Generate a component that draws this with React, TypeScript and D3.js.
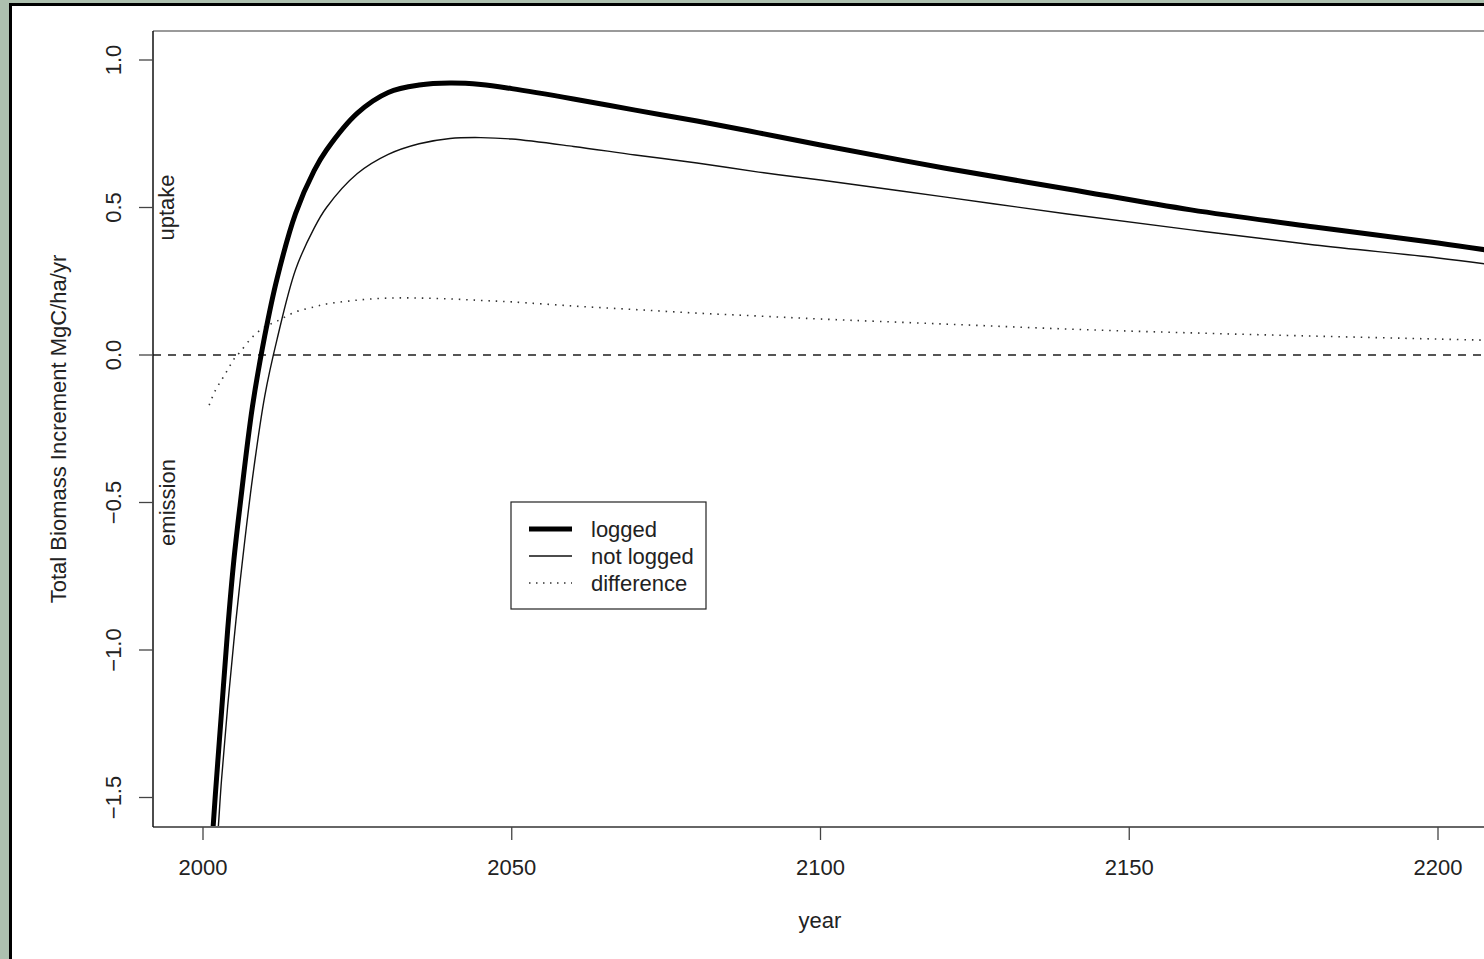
import React from "react";
import * as d3 from "d3";

const years = [2001, 2002, 2003, 2004, 2005, 2006, 2008, 2010, 2012, 2015, 2018, 2020, 2025, 2030, 2035, 2040, 2045, 2050, 2060, 2070, 2080, 2090, 2100, 2120, 2140, 2160, 2180, 2200, 2210];
const logged = [-1.8, -1.49, -1.21, -0.93, -0.695, -0.51, -0.176, 0.065, 0.26, 0.48, 0.625, 0.695, 0.82, 0.89, 0.915, 0.922, 0.917, 0.903, 0.868, 0.83, 0.793, 0.753, 0.712, 0.634, 0.563, 0.492, 0.434, 0.38, 0.349];
const notLogged = [-1.85, -1.72, -1.44, -1.19, -0.97, -0.77, -0.42, -0.139, 0.054, 0.29, 0.43, 0.5, 0.615, 0.68, 0.716, 0.734, 0.737, 0.732, 0.707, 0.678, 0.651, 0.62, 0.593, 0.536, 0.478, 0.424, 0.373, 0.329, 0.302];
const difference = [-0.17, -0.12, -0.085, -0.05, -0.014, 0.01, 0.061, 0.095, 0.115, 0.146, 0.163, 0.173, 0.186, 0.193, 0.193, 0.19, 0.185, 0.18, 0.166, 0.154, 0.142, 0.132, 0.122, 0.105, 0.088, 0.075, 0.064, 0.054, 0.049];

const xTicks = [2000, 2050, 2100, 2150, 2200];
const yTicks = [-1.5, -1.0, -0.5, 0.0, 0.5, 1.0];
const legendLabels = ["logged", "not logged", "difference"];

const FONT = "'Liberation Sans', Arial, Helvetica, sans-serif";

export default function App() {
  const W = 1484, H = 959;
  const plotLeft = 153, plotTop = 31, plotBottom = 827;
  const x = d3.scaleLinear().domain([2000, 2200]).range([203, 1438]);
  const y = d3.scaleLinear().domain([0, 1]).range([355, 60]);
  const plotRight = x(2210.6);

  const mk = (vals: number[]) =>
    d3.line<number>()
      .x((_, i) => x(years[i]))
      .y((v) => y(v))
      .curve(d3.curveCatmullRom.alpha(0.5))(vals) || "";

  const legendX = 511, legendY = 502, legendW = 195, legendH = 107;
  const legendRows = [529, 556, 583];

  return (
    <svg width={W} height={H} style={{ position: "fixed", left: 0, top: 0 }} fontFamily={FONT}>
      <rect x={0} y={0} width={W} height={H} fill="#adc0af" />
      <rect x={10.5} y={4.5} width={2000} height={2000} fill="#ffffff" stroke="#000" strokeWidth={3} />
      <defs>
        <clipPath id="plotClip">
          <rect x={plotLeft} y={plotTop} width={plotRight - plotLeft} height={plotBottom - plotTop} />
        </clipPath>
      </defs>

      {/* zero dashed line */}
      <line x1={plotLeft} x2={plotRight} y1={y(0)} y2={y(0)} stroke="#555" strokeWidth={2} strokeDasharray="8 7" />

      <g clipPath="url(#plotClip)" fill="none">
        <path d={mk(difference)} stroke="#333" strokeWidth={1.6} strokeDasharray="1.5 5.9" />
        <path d={mk(notLogged)} stroke="#111" strokeWidth={1.4} />
        <path d={mk(logged)} stroke="#000" strokeWidth={5} />
      </g>

      {/* box */}
      <line x1={plotLeft} x2={plotRight} y1={plotTop} y2={plotTop} stroke="#9a9a9a" strokeWidth={2} />
      <line x1={plotLeft} x2={plotRight} y1={plotBottom} y2={plotBottom} stroke="#666" strokeWidth={2} />
      <line x1={plotLeft} x2={plotLeft} y1={plotTop} y2={plotBottom} stroke="#111" strokeWidth={1.5} />

      {/* y axis */}
      {yTicks.map((t) => (
        <g key={"y" + t}>
          <line x1={139} x2={plotLeft} y1={y(t)} y2={y(t)} stroke="#444" strokeWidth={1.3} />
          <text transform={`translate(121,${y(t)}) rotate(-90)`} textAnchor="middle" fontSize={22} fill="#222">
            {t < 0 ? "\u2212" + Math.abs(t).toFixed(1) : t.toFixed(1)}
          </text>
        </g>
      ))}
      {/* x axis */}
      {xTicks.map((t) => (
        <g key={"x" + t}>
          <line x1={x(t)} x2={x(t)} y1={plotBottom} y2={840} stroke="#444" strokeWidth={1.3} />
          <text x={x(t)} y={875} textAnchor="middle" fontSize={22} fill="#222">{t}</text>
        </g>
      ))}

      <text x={820} y={928} textAnchor="middle" fontSize={22} fill="#222">year</text>
      <text transform={`translate(66,${(plotTop + plotBottom) / 2}) rotate(-90)`} textAnchor="middle" fontSize={22} fill="#222">
        Total Biomass Increment MgC/ha/yr
      </text>

      <text transform={`translate(174,${y(0.5)}) rotate(-90)`} textAnchor="middle" fontSize={22} fill="#222">uptake</text>
      <text transform={`translate(175,${y(-0.5)}) rotate(-90)`} textAnchor="middle" fontSize={22} fill="#222">emission</text>

      {/* legend */}
      <rect x={legendX} y={legendY} width={legendW} height={legendH} fill="#fff" stroke="#222" strokeWidth={1.2} />
      <line x1={529} x2={572} y1={legendRows[0]} y2={legendRows[0]} stroke="#000" strokeWidth={5} />
      <line x1={529} x2={572} y1={legendRows[1]} y2={legendRows[1]} stroke="#111" strokeWidth={1.4} />
      <line x1={529} x2={572} y1={legendRows[2]} y2={legendRows[2]} stroke="#333" strokeWidth={1.6} strokeDasharray="1.5 5.5" />
      {legendLabels.map((l, i) => (
        <text key={l} x={591} y={legendRows[i] + 8} fontSize={22} fill="#222">{l}</text>
      ))}
    </svg>
  );
}
